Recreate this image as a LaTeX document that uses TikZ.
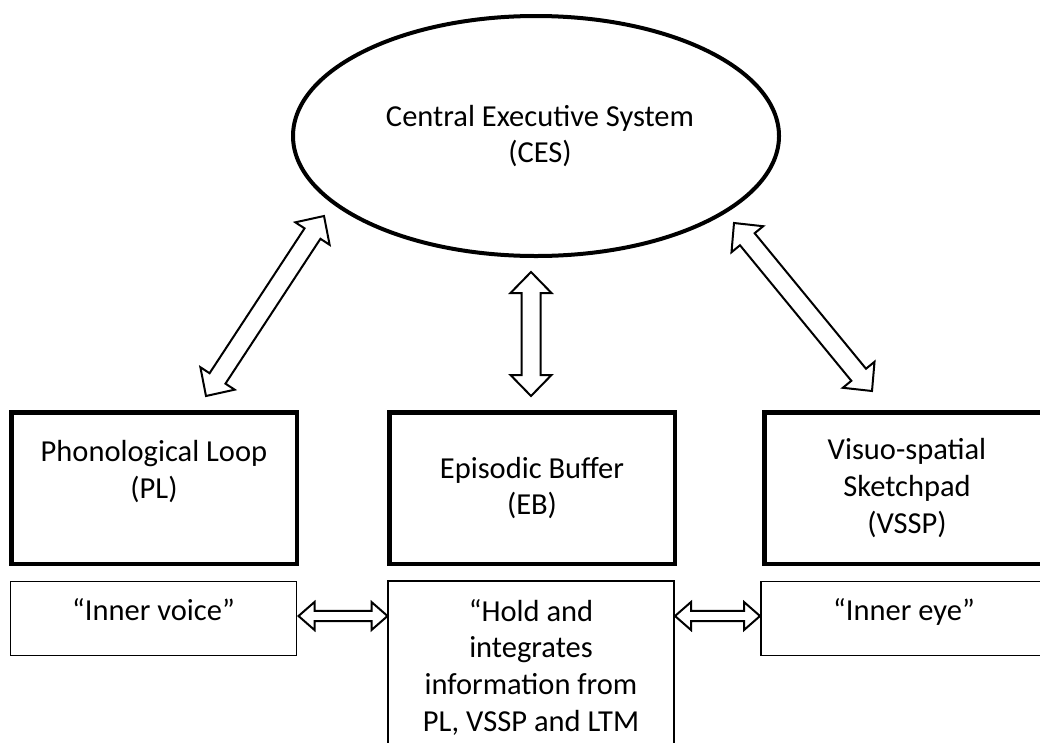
\documentclass[tikz,border=0pt]{standalone}
\usepackage{fontspec}
\setmainfont{Carlito}
\usetikzlibrary{calc,shapes.geometric}
\newcommand\diafont{\fontsize{30.5}{36.7}\selectfont}
\tikzset{
  thickbox/.style={draw, line width=4.5pt, minimum width=285.5pt, minimum height=151.5pt,
    inner sep=0pt, align=center, font=\diafont},
  thinbox/.style={draw, line width=1.5pt, minimum width=286pt, minimum height=74pt,
    inner sep=0pt, align=center, font=\diafont},
  blockarrow/.style n args={3}{to path={
    let \p1=(\tikztostart), \p2=(\tikztotarget),
        \n1={atan2(\y2-\y1,\x2-\x1)} in
    -- ($(\p1)+(\n1:#3)+({\n1+90}:#2)$)
    -- ($(\p1)+(\n1:#3)+({\n1+90}:#1)$)
    -- ($(\p2)+({\n1+180}:#3)+({\n1+90}:#1)$)
    -- ($(\p2)+({\n1+180}:#3)+({\n1+90}:#2)$)
    -- (\p2)
    -- ($(\p2)+({\n1+180}:#3)+({\n1-90}:#2)$)
    -- ($(\p2)+({\n1+180}:#3)+({\n1-90}:#1)$)
    -- ($(\p1)+(\n1:#3)+({\n1-90}:#1)$)
    -- ($(\p1)+(\n1:#3)+({\n1-90}:#2)$)
    -- cycle}},
  bigarrow/.style={draw, line width=2pt, fill=white, blockarrow={9.5pt}{20.5pt}{21pt}},
  smallarrow/.style={draw, line width=2pt, fill=white, blockarrow={5.2pt}{14pt}{16pt}},
}
\begin{document}
\begin{tikzpicture}[x=1pt, y=-1pt]
  \clip (0,0) rectangle (1040,742);
  \fill[white] (0,0) rectangle (1040,742);

  \node[ellipse, draw, line width=4pt, minimum width=486pt, minimum height=240pt,
        inner sep=0pt, align=center, font=\diafont] (ces) at (536,136)
        {\hspace*{8pt}Central Executive System\\\hspace*{8pt}(CES)};

  \node[thickbox] (pl) at (154,488) {Phonological Loop\\(PL)\\\mbox{}};
  \node[thickbox] (eb) at (532,488) {Episodic Buffer\\(EB)};
  \node[thickbox] (vssp) at (907,488) {Visuo-spatial\\Sketchpad\\(VSSP)};

  \node[thinbox, text depth=18pt] (iv) at (153.5,618.5) {“Inner voice”};
  \node[thinbox, minimum height=172pt] (hold) at (531,667)
        {“Hold and\\integrates\\information from\\PL, VSSP and LTM};
  \node[thinbox, text depth=18pt] (ie) at (904,618.5) {“Inner eye”};

  \coordinate (la) at (324,216);
  \coordinate (lb) at (206,396);
  \coordinate (ma) at (531,272);
  \coordinate (mb) at (531,396);
  \coordinate (ra) at (734,223);
  \coordinate (rb) at (872,391);
  \coordinate (h1a) at (298.5,616);
  \coordinate (h1b) at (387.5,616);
  \coordinate (h2a) at (675,616);
  \coordinate (h2b) at (760,616);

  \draw[bigarrow] (la) to (lb);
  \draw[bigarrow] (ma) to (mb);
  \draw[bigarrow] (ra) to (rb);
  \draw[smallarrow] (h1a) to (h1b);
  \draw[smallarrow] (h2a) to (h2b);
\end{tikzpicture}
\end{document}
